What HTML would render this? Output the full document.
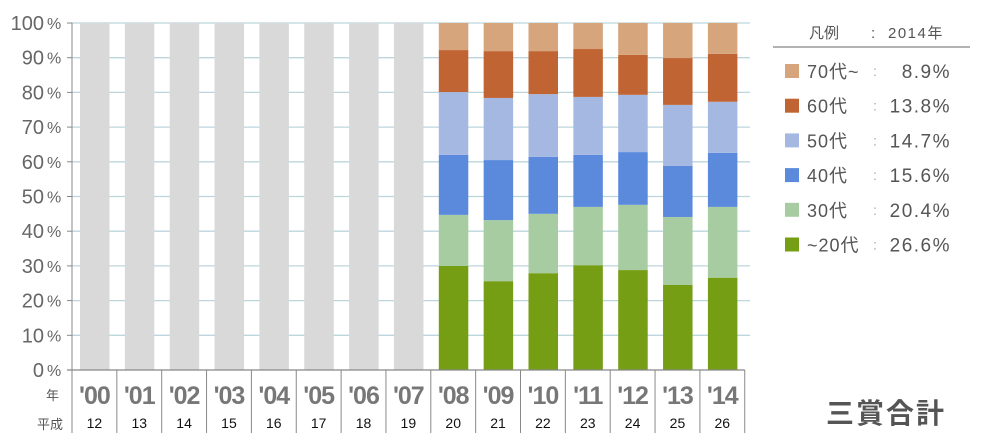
<!DOCTYPE html>
<html><head><meta charset="utf-8"><style>
body{margin:0;background:#fff;width:981px;height:448px;overflow:hidden;font-family:"Liberation Sans","Noto Sans CJK JP",sans-serif;}
svg{display:block}
</style></head><body>
<svg id="chart" width="981" height="448" xmlns="http://www.w3.org/2000/svg" font-family="Liberation Sans, Noto Sans CJK JP, sans-serif">
<g id="grid"></g>
<g id="bars"></g>
<g id="axes"></g>
<g id="legend"></g>
<text x="826" y="423" font-size="28" font-weight="bold" fill="#555" letter-spacing="2">三賞合計</text>
</svg>
<script>
const years=["'00","'01","'02","'03","'04","'05","'06","'07","'08","'09","'10","'11","'12","'13","'14"];
const heisei=["12","13","14","15","16","17","18","19","20","21","22","23","24","25","26"];
const ageGroups=["~20代","30代","40代","50代","60代","70代~"];
const s20=[null,null,null,null,null,null,null,null,30.0,25.6,27.9,30.2,28.8,24.5,26.6];
const s30=[null,null,null,null,null,null,null,null,14.7,17.6,17.1,16.8,18.8,19.6,20.4];
const s40=[null,null,null,null,null,null,null,null,17.3,17.3,16.4,15.0,15.2,14.7,15.6];
const s50=[null,null,null,null,null,null,null,null,18.1,17.9,18.1,16.7,16.5,17.6,14.7];
const s60=[null,null,null,null,null,null,null,null,12.1,13.5,12.4,13.8,11.5,13.5,13.8];
const s70=[null,null,null,null,null,null,null,null,7.8,8.1,8.1,7.5,9.2,10.1,8.9];
const legendValues=["8.9%","13.8%","14.7%","15.6%","20.4%","26.6%"];
const yTicks=[0,10,20,30,40,50,60,70,80,90,100];
const colors=["#759e15","#a8cca1","#5b8add","#a5b8e2","#c06433","#d6a57c"];
const NS="http://www.w3.org/2000/svg";
const x0=72,pitch=44.85,y0=370,yTop=23;
const yS=v=>y0-(y0-yTop)*v/100;
const xS=i=>x0+pitch*i;
function el(t,a,p){const e=document.createElementNS(NS,t);for(const k in a)e.setAttribute(k,a[k]);p.appendChild(e);return e;}
const grid=document.getElementById('grid'),bars=document.getElementById('bars'),axes=document.getElementById('axes'),leg=document.getElementById('legend');
yTicks.forEach(v=>{
 if(v>0){const g=el('line',{x1:x0,x2:750,y1:yS(v),y2:yS(v),stroke:'#bcd6de','stroke-width':1.3},grid);
 
 }
 const t=el('line',{x1:67,x2:x0,y1:yS(v),y2:yS(v),stroke:'#888'},axes);
 
 
 const l=el('text',{x:44,y:yS(v)+7,'font-size':20,fill:'#666','text-anchor':'end'},axes);l.textContent=v;
 
 
 const p=el('text',{x:47,y:yS(v)+6,'font-size':16,fill:'#666'},axes);p.textContent='%';
 
 
});
const series=[s20,s30,s40,s50,s60,s70];
years.forEach((yr,i)=>{
 const bx=xS(i)+8,bw=29.5;
 if(s20[i]==null){
  const r=el('rect',{x:bx,y:yTop,width:bw,height:y0-yTop,fill:'#d9d9d9'},bars);
  
  
 } else {
  let cum=0;
  series.forEach((s,k)=>{
   const top=k==series.length-1?100:cum+s[i];
   const r=el('rect',{x:bx,y:yS(top),width:bw,height:yS(cum)-yS(top),fill:colors[k]},bars);
   
   
   cum+=s[i];
  });
 }
 const t=el('text',{x:xS(i)+22.4,y:404,'font-size':25,'font-weight':'bold',fill:'#777','text-anchor':'middle','letter-spacing':'-1'},axes);t.textContent=yr;
 
 
 const h=el('text',{x:xS(i)+22.4,y:428,'font-size':14,fill:'#111','text-anchor':'middle'},axes);h.textContent=heisei[i];
 
 
});
for(let i=0;i<=years.length;i++){
 const s=el('line',{x1:xS(i),x2:xS(i),y1:370,y2:433,stroke:'#888'},axes);
 
 
}
const ya=el('line',{x1:x0,x2:x0,y1:yTop,y2:370,stroke:'#888'},axes);


const xa=el('line',{x1:67,x2:xS(years.length),y1:370,y2:370,stroke:'#888','stroke-width':1.3},axes);


const ny=el('text',{x:46,y:400,'font-size':13,fill:'#555'},axes);ny.textContent='年';


const nh=el('text',{x:37,y:429,'font-size':13,fill:'#555'},axes);nh.textContent='平成';


// legend
const lh=el('text',{x:809,y:38,'font-size':15,fill:'#555'},leg);lh.textContent='凡例';


const lc=el('text',{x:871,y:38,'font-size':15,fill:'#555'},leg);lc.textContent=':';
const ly=el('text',{x:888,y:38,'font-size':15,fill:'#555','letter-spacing':'1.5'},leg);ly.textContent='2014年';


const ll=el('line',{x1:773,x2:970,y1:47,y2:47,stroke:'#666'},leg);
for(let r=0;r<6;r++){
 const k=5-r,cy=71+r*34.7;
 const sw=el('rect',{x:785,y:cy-7,width:14,height:14,fill:colors[k]},leg);
 
 
 const t=el('text',{x:807,y:cy+7,'font-size':18,fill:'#555','letter-spacing':'1'},leg);t.textContent=ageGroups[k];
 
 
 const c=el('text',{x:873,y:cy+5,'font-size':14,fill:'#aaa'},leg);c.textContent=':';
 const v=el('text',{x:951,y:cy+7,'font-size':19,fill:'#555','text-anchor':'end','letter-spacing':'1.5'},leg);v.textContent=legendValues[r];
 
 
}
</script>
</body></html>
